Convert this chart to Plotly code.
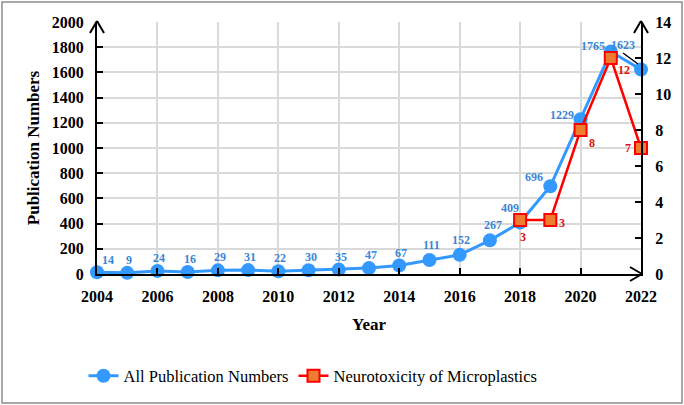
import plotly.graph_objects as go

years = list(range(2004, 2023))
all_pubs = [14, 9, 24, 16, 29, 31, 22, 30, 35, 47, 67, 111, 152, 267, 409, 696, 1229, 1765, 1623]
neuro_years = [2018, 2019, 2020, 2021, 2022]
neuro_vals = [3, 3, 8, 12, 7]
left_ticks = list(range(0, 2001, 200))
right_ticks = list(range(0, 15, 2))
x_ticks = list(range(2004, 2023, 2))

# label offsets in pixels (dx, dy screen) - styling only
blue_off = [(11, -12)] + [(2, -13)] * 10 + [(2, -15), (1, -15), (3, -15), (-10, -14), (-16, -9), (-19, -4), (-18, -6), (-18, -25)]
red_off = [(3, 17), (12, 3), (11, 13), (13, 12), (-13, 0)]

FONT = "'Liberation Serif', 'Times New Roman', 'DejaVu Serif', serif"
BLUE = "#3399FF"
BLUE_TXT = "#3A86D6"
RED = "#FF0000"

L, R, T, B = 97, 43, 22, 131
W, H = 684, 405
PW, PH = W - L - R, H - T - B

def px(x):
    return (x - L) / PW

def py(y):
    return (H - B - y) / PH

fig = go.Figure()
fig.add_trace(go.Scatter(
    x=years, y=all_pubs, mode="lines+markers", name="All Publication Numbers", cliponaxis=False,
    line=dict(color=BLUE, width=3), marker=dict(color=BLUE, size=14, symbol="circle"),
))
fig.add_trace(go.Scatter(
    x=neuro_years, y=neuro_vals, mode="lines+markers", name="Neurotoxicity of Microplastics",
    yaxis="y2", line=dict(color=RED, width=2.5), cliponaxis=False,
    marker=dict(color="#ED7D31", size=12, symbol="square", line=dict(color=RED, width=2)),
))

annotations = []
for x, v, (dx, dy) in zip(years, all_pubs, blue_off):
    annotations.append(dict(x=x, y=v, xref="x", yref="y", text=f"<b>{v}</b>", showarrow=False,
                            xshift=dx, yshift=-dy, font=dict(family=FONT, size=12, color=BLUE_TXT)))
for x, v, (dx, dy) in zip(neuro_years, neuro_vals, red_off):
    annotations.append(dict(x=x, y=v, xref="x", yref="y2", text=f"<b>{v}</b>", showarrow=False,
                            xshift=dx, yshift=-dy, font=dict(family=FONT, size=12, color="#E01010")))

shapes = []
def line(x0, y0, x1, y1, color="black", width=2):
    shapes.append(dict(type="line", xref="paper", yref="paper", x0=px(x0), y0=py(y0), x1=px(x1), y1=py(y1),
                       line=dict(color=color, width=width), layer="above"))

# axis arrows (open chevrons)
line(90, 33, 97, 21); line(104, 33, 97, 21)
line(634, 33, 641, 21); line(648, 33, 641, 21)
line(630, 267, 642, 274); line(630, 281, 642, 274)
# leader line for 1623
line(623, 53, 638, 64, width=1.5)
# outer border
shapes.append(dict(type="rect", xref="paper", yref="paper", x0=px(2), y0=py(403), x1=px(682), y1=py(2),
                   line=dict(color="#8C8C8C", width=1.5), layer="below"))

tickfont = dict(family=FONT, size=16, color="black", weight="bold")
fig.update_layout(
    width=W, height=H, margin=dict(l=L, r=R, t=T, b=B),
    paper_bgcolor="white", plot_bgcolor="white",
    font=dict(family=FONT, color="black"),
    xaxis=dict(range=[2004, 2022], tickvals=x_ticks, ticktext=[str(t) for t in x_ticks],
               showgrid=True, gridcolor="#D9D9D9", gridwidth=1.5,
               showline=True, linecolor="black", linewidth=2, ticks="inside", ticklen=6, tickwidth=2,
               tickcolor="black", tickfont=tickfont, ticklabelstandoff=7,
               title=dict(text="<b>Year</b>", font=dict(family=FONT, size=17, color="black"), standoff=14),
               zeroline=False, fixedrange=True),
    yaxis=dict(range=[0, 2000], tickvals=left_ticks, showgrid=True, gridcolor="#D9D9D9", gridwidth=1.5,
               showline=True, linecolor="black", linewidth=2, ticks="inside", ticklen=6, tickwidth=2,
               tickcolor="black", tickfont=tickfont, ticklabelstandoff=8, zeroline=False,
               title=dict(text="<b>Publication Numbers</b>", font=dict(family=FONT, size=17, color="black"), standoff=8)),
    yaxis2=dict(range=[0, 14], tickvals=right_ticks, overlaying="y", side="right", showgrid=False,
                showline=True, linecolor="black", linewidth=2, ticks="inside", ticklen=6, tickwidth=2,
                tickcolor="black", tickfont=tickfont, ticklabelstandoff=9, zeroline=False),
    legend=dict(orientation="h", x=px(313), xanchor="center", y=py(376), yanchor="middle",
                font=dict(family=FONT, size=16.5, color="black"), bgcolor="rgba(0,0,0,0)"),
    annotations=annotations, shapes=shapes,
)

fig.write_html("out.html", config={"displayModeBar": False},
               post_script="document.body.style.margin='0';document.body.style.overflow='hidden';")
